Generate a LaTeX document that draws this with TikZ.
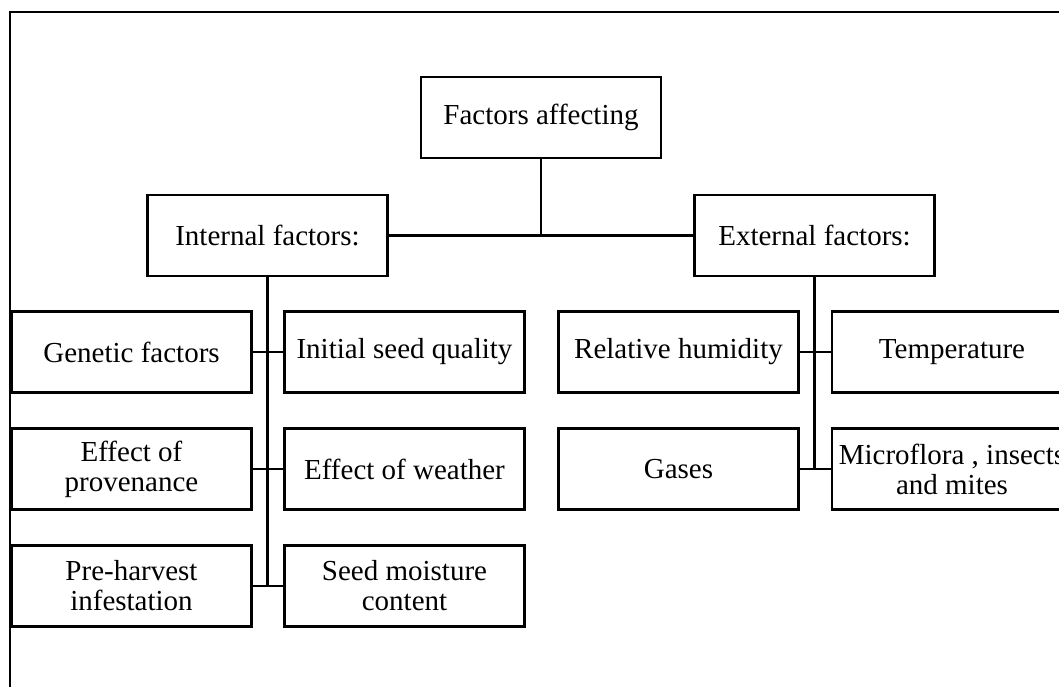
\documentclass[tikz,border=0pt]{standalone}
\usepackage{fontspec}
\setmainfont{Liberation Serif}
\usetikzlibrary{positioning}

\tikzset{
  factor/.style={draw, line width=1.3pt, inner sep=0pt, minimum width=120pt,
    minimum height=40.5pt, align=center, font=\fontsize{14.5}{15}\selectfont},
  link/.style={line width=1.3pt}
}

\begin{document}
\begin{tikzpicture}[x=0.5pt, y=-0.5pt]
            \clip (0,0) rectangle (1059,686);
            \useasboundingbox (0,0) rectangle (1059,686);
            \draw[line width=1.3pt] (10,720) -- (10,12) -- (1100,12);

            % top levels
            \node[factor] (top) at (541,117.5) {Factors affecting};
            \node[factor] (internal) at (267.5,235.5) {Internal factors:};
            \node[factor] (external) at (814.5,235.5) {External factors:};

            % internal side
            \node[factor] (genetic) at (131.5,352) {Genetic factors};
            \node[factor] (initial) at (404.5,352) {Initial seed quality};
            \node[factor] (provenance) at (131.5,469) {Effect of\\provenance};
            \node[factor] (weather) at (404.5,469) {Effect of weather};
            \node[factor] (preharvest) at (131.5,586) {Pre-harvest\\infestation};
            \node[factor] (moisture) at (404.5,586) {Seed moisture\\content};

            % external side
            \node[factor] (humidity) at (678.5,352) {Relative humidity};
            \node[factor] (temperature) at (952,352) {Temperature};
            \node[factor] (gases) at (678.5,469) {Gases};
            \node[factor] (microflora) at (952,469) {Microflora , insects\\and mites};

            \coordinate (topjoin) at (top.south |- internal.east);
            \coordinate (injoin) at (internal.south |- preharvest.east);
            \coordinate (exjoin) at (external.south |- gases.east);

            \draw[link] (top.south) -- (topjoin);
            \draw[link] (internal.east) -- (external.west);
            \draw[link] (internal.south) -- (injoin);
            \draw[link] (external.south) -- (exjoin);

            \draw[link] (genetic.east) -- (initial.west);
            \draw[link] (provenance.east) -- (weather.west);
            \draw[link] (preharvest.east) -- (moisture.west);
            \draw[link] (humidity.east) -- (temperature.west);
            \draw[link] (gases.east) -- (microflora.west);
        \end{tikzpicture}
\end{document}
